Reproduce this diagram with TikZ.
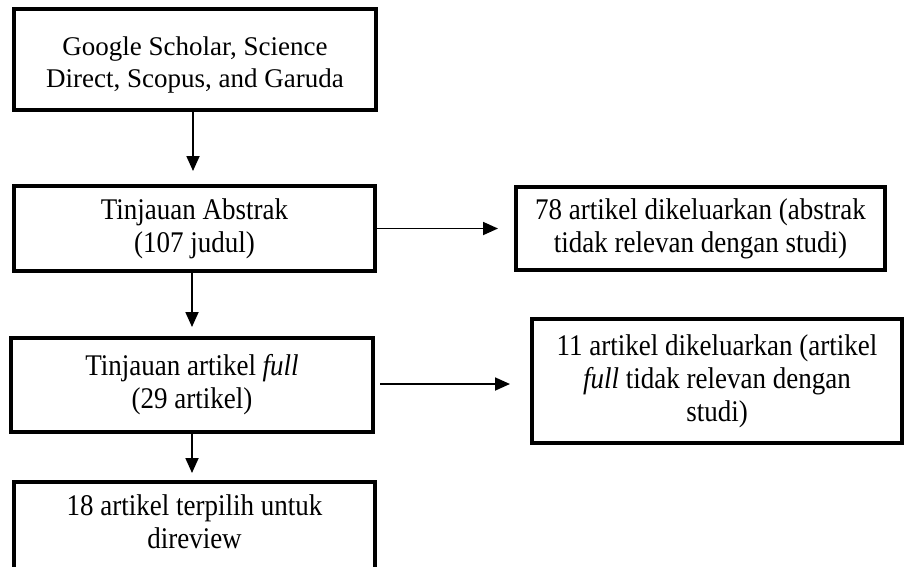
\documentclass[tikz,border=0pt]{standalone}
\usepackage{fontspec}
\setmainfont{Liberation Serif}
\newfontfamily\condserif[FakeStretch=0.9]{Liberation Serif}
\usetikzlibrary{arrows.meta}
\begin{document}
\begin{tikzpicture}[x=1pt,y=1pt,
  box/.style={draw=black, line width=4pt, rectangle, inner sep=0pt},
  txt/.style={align=center, font=\condserif\fontsize{30}{33}\selectfont, inner sep=0pt},
  toptxt/.style={align=center, font=\fontsize{27}{31.5}\selectfont, inner sep=0pt},
  arr/.style={line width=1.8pt, -{Triangle[width=13pt,length=15pt]}}]
\useasboundingbox (0,0) rectangle (905,-566);
% boxes
\node[box, minimum width=362pt, minimum height=101pt] (b1) at (195,-59.5) {};
\node[toptxt] (t1) at (195,-65) {Google Scholar, Science\\Direct, Scopus, and Garuda};
\node[box, minimum width=361pt, minimum height=85pt] (b2) at (194.5,-228.5) {};
\node[txt] (t2) at (b2.center) {Tinjauan Abstrak\\(107 judul)};
\node[box, minimum width=369pt, minimum height=83pt] (r1) at (700.5,-228.5) {};
\node[txt] (tr1) at (r1.center) {78 artikel dikeluarkan (abstrak\\tidak relevan dengan studi)};
\node[box, minimum width=362pt, minimum height=94pt] (b3) at (192,-385) {};
\node[txt] (t3) at (b3.center) {Tinjauan artikel \textit{full}\\(29 artikel)};
\node[box, minimum width=370pt, minimum height=124pt] (r2) at (717,-381) {};
\node[txt] (tr2) at (r2.center) {11 artikel dikeluarkan (artikel\\\textit{full} tidak relevan dengan\\studi)};
\node[box, minimum width=361pt, minimum height=120pt] (b4) at (194.5,-542) {};
\node[txt] (t4) at (194.5,-522) {18 artikel terpilih untuk\\direview};
% connectors
\coordinate (h2e) at ([xshift=5pt,yshift=1pt]b3.east);
\draw[arr] ([xshift=-2pt]b1.south) -- ([xshift=-1.5pt,yshift=13pt]b2.north);
\draw[arr] (b2.east) -- ([xshift=-16pt]r1.west);
\draw[arr] ([xshift=-2.5pt]b2.south) -- ([yshift=9pt]b3.north);
\draw[arr] (h2e) -- ([xshift=-20pt]h2e -| r2.west);
\draw[arr] (b3.south) -- ([xshift=-2.5pt,yshift=7pt]b4.north);
\end{tikzpicture}
\end{document}
